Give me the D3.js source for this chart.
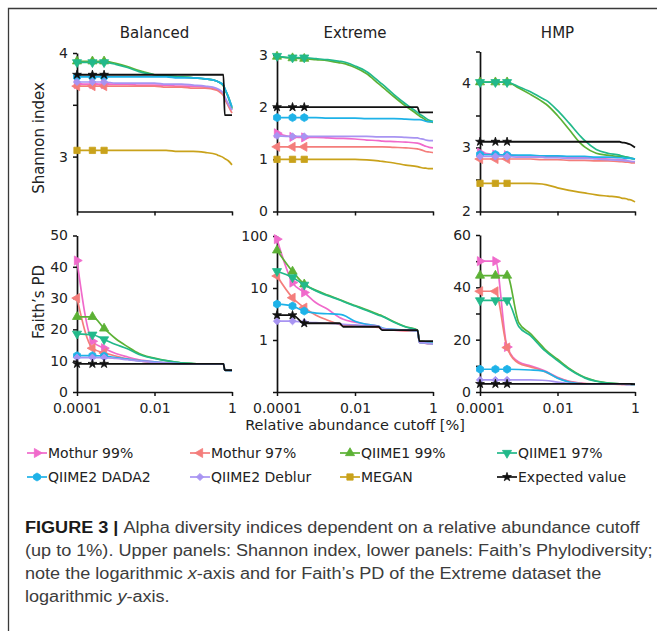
<!DOCTYPE html>
<html><head><meta charset="utf-8">
<script src="https://cdn.jsdelivr.net/npm/d3@7"></script>
<style>body{margin:0;background:#fff}svg{display:block}</style>
</head><body>
<svg id="c" width="657" height="631"></svg>
<script>
// ---------- DATA ----------
const seriesNames = ["Mothur 99%","Mothur 97%","QIIME1 99%","QIIME1 97%","QIIME2 DADA2","QIIME2 Deblur","MEGAN","Expected value"];
const seriesColors = ["#f06acb","#f47d7b","#5cb135","#22b98a","#1eb2e8","#a894f2","#c9a21b","#111111"];
const datasetNames = ["Balanced","Extreme","HMP"];
const cutoffs = [0.0001,0.00025,0.0005,0.001,0.002,0.004,0.005,0.01,0.02,0.04,0.05,0.1,0.2,0.4,0.45,0.6,0.65,0.8,1];
const xTickValues = [0.0001,0.01,1];
const xTickLabels = ["0.0001","0.01","1"];

// Shannon index, Balanced (order = seriesNames)
const shannonBalanced = [
  [3.70,3.70,3.70,3.70,3.70,3.69,3.69,3.69,3.69,3.68,3.68,3.68,3.67,3.65,3.64,3.60,3.57,3.50,3.45],
  [3.68,3.68,3.68,3.68,3.68,3.68,3.68,3.68,3.67,3.67,3.67,3.66,3.66,3.64,3.63,3.59,3.56,3.49,3.42],
  [3.92,3.92,3.92,3.90,3.87,3.83,3.82,3.79,3.78,3.77,3.77,3.76,3.75,3.73,3.72,3.68,3.65,3.58,3.47],
  [3.91,3.91,3.91,3.89,3.86,3.82,3.81,3.79,3.78,3.77,3.77,3.76,3.75,3.73,3.72,3.69,3.66,3.57,3.46],
  [3.77,3.77,3.77,3.77,3.77,3.77,3.77,3.77,3.77,3.76,3.76,3.76,3.75,3.73,3.72,3.69,3.66,3.58,3.48],
  [3.72,3.72,3.72,3.71,3.71,3.71,3.71,3.71,3.70,3.70,3.70,3.69,3.68,3.66,3.65,3.61,3.58,3.51,3.45],
  [3.06,3.06,3.06,3.06,3.06,3.06,3.06,3.06,3.06,3.05,3.05,3.05,3.04,3.02,3.01,2.99,2.98,2.96,2.92],
  [3.79,3.79,3.79,3.79,3.79,3.79,3.79,3.79,3.79,3.79,3.79,3.79,3.79,3.79,3.79,3.79,3.40,3.40,3.40]
];
const shannonExtreme = [
  [1.50,1.43,1.42,1.42,1.41,1.40,1.40,1.39,1.37,1.36,1.35,1.34,1.33,1.31,1.30,1.26,1.25,1.23,1.22],
  [1.24,1.24,1.24,1.24,1.24,1.24,1.24,1.24,1.24,1.24,1.24,1.23,1.22,1.20,1.19,1.16,1.15,1.14,1.13],
  [2.97,2.94,2.93,2.91,2.89,2.85,2.84,2.76,2.64,2.45,2.39,2.20,2.02,1.86,1.83,1.77,1.75,1.72,1.71],
  [2.98,2.95,2.95,2.93,2.91,2.88,2.87,2.79,2.68,2.50,2.44,2.24,2.06,1.90,1.87,1.81,1.79,1.75,1.73],
  [1.80,1.80,1.80,1.80,1.79,1.79,1.79,1.79,1.78,1.78,1.78,1.78,1.77,1.76,1.76,1.74,1.73,1.72,1.72],
  [1.45,1.44,1.44,1.44,1.44,1.44,1.44,1.44,1.44,1.43,1.43,1.43,1.42,1.41,1.40,1.38,1.37,1.36,1.36],
  [1.00,1.00,1.00,1.00,1.00,1.00,1.00,1.00,0.99,0.97,0.96,0.93,0.89,0.86,0.85,0.83,0.83,0.82,0.82],
  [2.00,2.00,2.00,2.00,2.00,2.00,2.00,2.00,2.00,2.00,2.00,2.00,2.00,2.00,1.90,1.90,1.90,1.90,1.90]
];
const shannonHMP = [
  [2.92,2.89,2.88,2.87,2.87,2.86,2.86,2.86,2.85,2.84,2.84,2.83,2.82,2.81,2.81,2.80,2.79,2.78,2.77],
  [2.82,2.82,2.82,2.82,2.82,2.81,2.81,2.81,2.80,2.80,2.80,2.79,2.79,2.78,2.78,2.77,2.77,2.76,2.76],
  [4.02,4.02,4.02,3.93,3.83,3.72,3.68,3.50,3.28,3.06,3.01,2.91,2.88,2.86,2.86,2.85,2.84,2.83,2.82],
  [4.02,4.02,4.02,3.95,3.87,3.77,3.74,3.58,3.38,3.17,3.11,2.97,2.91,2.88,2.87,2.85,2.85,2.83,2.82],
  [2.89,2.89,2.88,2.88,2.88,2.87,2.87,2.87,2.86,2.86,2.86,2.85,2.85,2.84,2.84,2.83,2.83,2.83,2.82],
  [2.86,2.86,2.86,2.85,2.85,2.85,2.84,2.84,2.83,2.83,2.83,2.82,2.81,2.80,2.80,2.79,2.79,2.78,2.78],
  [2.44,2.44,2.44,2.44,2.44,2.43,2.42,2.37,2.33,2.30,2.29,2.26,2.24,2.22,2.21,2.20,2.19,2.18,2.15],
  [3.09,3.09,3.09,3.09,3.09,3.09,3.09,3.09,3.09,3.09,3.09,3.09,3.09,3.09,3.08,3.07,3.06,3.04,3.00]
];
// Faith's PD (MEGAN has no values)
const faithBalanced = [
  [42,16.2,14.0,12.3,11.2,10.3,10.1,9.6,9.3,9.1,9.05,9.0,9.0,9.0,9.0,9.0,7.0,6.9,6.8],
  [30,14.0,12.5,11.5,10.6,10.0,9.8,9.4,9.2,9.05,9.0,9.0,9.0,9.0,9.0,9.0,7.0,6.9,6.8],
  [24,24,20.3,17.0,14.5,12.3,11.8,10.8,10.0,9.5,9.3,9.1,9.0,9.0,9.0,9.0,7.0,6.9,6.8],
  [18.6,18.3,16.8,15.2,13.8,12.0,11.6,10.7,10.0,9.5,9.3,9.1,9.0,9.0,9.0,9.0,7.0,6.9,6.8],
  [11.6,11.6,11.5,11.0,10.5,10.0,9.9,9.6,9.3,9.1,9.0,9.0,9.0,9.0,9.0,9.0,7.0,6.9,6.8],
  [11.0,11.0,11.0,10.7,10.3,9.9,9.8,9.5,9.3,9.1,9.0,9.0,9.0,9.0,9.0,9.0,7.0,6.9,6.8],
  null,
  [9.0,9.0,9.0,9.0,9.0,9.0,9.0,9.0,9.0,9.0,9.0,9.0,9.0,9.0,9.0,9.0,7.0,7.0,7.0]
];
const faithExtreme = [
  [87,12.7,8.2,5.2,3.9,2.7,2.5,2.2,2.0,1.8,1.6,1.55,1.52,1.5,0.9,0.88,0.87,0.86,0.85],
  [17,6.5,4.2,3.0,2.4,2.0,1.9,1.85,1.8,1.75,1.6,1.55,1.5,1.48,0.9,0.88,0.86,0.85,0.85],
  [53,20.8,11.8,9.0,7.3,6.0,5.6,4.6,3.8,3.1,2.9,2.25,1.8,1.55,0.95,0.93,0.92,0.9,0.9],
  [21,16,11.5,8.8,7.1,5.9,5.5,4.5,3.7,3.0,2.85,2.2,1.78,1.53,0.93,0.92,0.9,0.89,0.88],
  [4.9,4.5,3.6,3.3,3.2,3.1,3.0,2.3,2.0,1.85,1.7,1.6,1.55,1.5,0.9,0.88,0.87,0.86,0.85],
  [2.3,2.3,2.2,2.15,2.1,2.05,2.0,1.95,1.9,1.85,1.65,1.58,1.55,1.52,0.9,0.88,0.87,0.86,0.85],
  null,
  [3.0,3.0,2.1,2.1,2.1,2.1,1.8,1.8,1.8,1.8,1.55,1.55,1.55,1.55,0.95,0.95,0.95,0.95,0.95]
];
const faithHMP = [
  [50,50,17.2,11.5,10.0,8.5,7.9,5.6,4.1,3.4,3.25,3.05,3.0,3.0,2.95,2.95,2.9,2.9,2.9],
  [38.5,38.5,17.0,11.0,9.6,8.2,7.6,5.4,4.0,3.3,3.2,3.0,3.0,2.95,2.95,2.95,2.9,2.9,2.9],
  [44.5,44.5,44.5,26.5,22.3,17.5,16.0,12.5,9.0,6.3,5.6,4.2,3.5,3.1,3.05,3.0,3.0,2.95,2.9],
  [35,35,35,25,21.5,16.8,15.5,12.0,8.7,6.1,5.4,4.1,3.4,3.1,3.05,3.0,3.0,2.95,2.9],
  [8.7,8.7,8.7,8.6,8.4,8.1,7.7,5.3,3.8,3.2,3.1,3.0,3.0,3.0,3.0,2.95,2.95,2.9,2.9],
  [4.6,4.6,4.6,4.6,4.6,4.5,4.4,3.8,3.3,3.1,3.05,3.0,3.0,3.0,3.0,2.95,2.95,2.9,2.9],
  null,
  [3.1,3.1,3.1,3.1,3.1,3.1,3.1,3.1,3.1,3.1,3.1,3.1,3.1,3.1,3.1,3.1,3.1,3.05,3.0]
];

// y tick values and labels
const shBalTicks = [3,4], shBalLabels = ["3","4"], shBalMinor = [3.5];
const shExtTicks = [0,1,2,3], shExtLabels = ["0","1","2","3"], shExtMinor = [];
const shHmpTicks = [2,3,4], shHmpLabels = ["2","3","4"], shHmpMinor = [2.5,3.5,4.5];
const fpBalTicks = [0,10,20,30,40,50], fpBalLabels = ["0","10","20","30","40","50"], fpBalMinor = [];
const fpExtTicks = [0.1,1,10,100], fpExtLabels = ["","1","10","100"], fpExtMinor = [];
const fpHmpTicks = [0,20,40,60], fpHmpLabels = ["0","20","40","60"], fpHmpMinor = [10,30,50];

const captionLines = [
  [["b","FIGURE 3 | "],["n","Alpha diversity indices dependent on a relative abundance cutoff"]],
  [["n","(up to 1%). Upper panels: Shannon index, lower panels: Faith\u2019s Phylodiversity;"]],
  [["n","note the logarithmic "],["i","x"],["n","-axis and for Faith\u2019s PD of the Extreme dataset the"]],
  [["n","logarithmic "],["i","y"],["n","-axis."]]
];

// ---------- DRAW ----------
const FONT = "'DejaVu Sans', sans-serif";
const svg = d3.select("#c");
svg.append("rect").attr("width",657).attr("height",631).attr("fill","#fff");
svg.append("path").attr("d","M8.5,631 V8.5 H657").attr("fill","none").attr("stroke","#3a3a3a").attr("stroke-width",1.3);

const colX = [[77,232],[277,433],[480,635]];
const panels = [
  {row:0,col:0,data:shannonBalanced,log:false,domain:[2.47,4],range:[211.5,53],t:shBalTicks,l:shBalLabels,m:shBalMinor},
  {row:0,col:1,data:shannonExtreme,log:false,domain:[0,3],range:[211.5,55],t:shExtTicks,l:shExtLabels,m:shExtMinor},
  {row:0,col:2,data:shannonHMP,log:false,domain:[2,4.5],range:[211.5,51.5],t:shHmpTicks,l:shHmpLabels,m:shHmpMinor},
  {row:1,col:0,data:faithBalanced,log:false,domain:[0,50],range:[392,235.5],t:fpBalTicks,l:fpBalLabels,m:fpBalMinor},
  {row:1,col:1,data:faithExtreme,log:true,domain:[0.1,100],range:[392,236],t:fpExtTicks,l:fpExtLabels,m:fpExtMinor},
  {row:1,col:2,data:faithHMP,log:false,domain:[0,60],range:[392,235],t:fpHmpTicks,l:fpHmpLabels,m:fpHmpMinor}
];

const hexagon = {draw(ctx,size){const r=Math.sqrt(size/(1.5*Math.sqrt(3)));for(let k=0;k<6;k++){const a=Math.PI/3*k+Math.PI/6;const px=r*Math.cos(a),py=r*Math.sin(a);k?ctx.lineTo(px,py):ctx.moveTo(px,py);}ctx.closePath();}};
const symDefs = [
  {type:d3.symbolTriangle,rot:90,size:36},
  {type:d3.symbolTriangle,rot:-90,size:36},
  {type:d3.symbolTriangle,rot:0,size:36},
  {type:d3.symbolTriangle,rot:180,size:36},
  {type:hexagon,rot:0,size:42},
  {type:d3.symbolSquare,rot:45,size:26},
  {type:d3.symbolSquare,rot:0,size:40},
  {type:d3.symbolStar,rot:0,size:24}
];
function marker(g,si,cx,cy){
  const s=symDefs[si];
  g.append("path").attr("d",d3.symbol().type(s.type).size(s.size)())
   .attr("transform",`translate(${cx},${cy}) rotate(${s.rot})`)
   .attr("fill",seriesColors[si]).attr("stroke",seriesColors[si]).attr("stroke-width",0.8);
}

function styleAxis(a){
  a.selectAll("path.domain").attr("stroke","#111").attr("stroke-width",1.7);
  a.selectAll(".tick line").attr("stroke","#111").attr("stroke-width",1.5);
  a.selectAll(".tick text").attr("font-family",FONT).attr("font-size",14).attr("fill","#222");
}

panels.forEach(p=>{
  const [x0,x1]=colX[p.col];
  const x=d3.scaleLog().domain([1e-4,1]).range([x0,x1]);
  const y=(p.log?d3.scaleLog():d3.scaleLinear()).domain(p.domain).range(p.range);
  const g=svg.append("g");
  const yb=p.range[0];
  const ax=g.append("g").attr("transform",`translate(0,${yb})`)
    .call(d3.axisBottom(x).tickValues(xTickValues).tickSizeInner(4).tickSizeOuter(0).tickPadding(7)
      .tickFormat((d,i)=>p.row===1?xTickLabels[i]:""));
  styleAxis(ax);
  const ay=g.append("g").attr("transform",`translate(${x0},0)`)
    .call(d3.axisLeft(y).tickValues(p.t).tickSizeInner(4).tickSizeOuter(0).tickPadding(5).tickFormat((d,i)=>p.l[i]));
  styleAxis(ay);
  if(p.m.length){
    const am=g.append("g").attr("transform",`translate(${x0},0)`)
      .call(d3.axisLeft(y).tickValues(p.m).tickSizeInner(4).tickSizeOuter(0).tickFormat(""));
    styleAxis(am); am.select("path.domain").remove();
  }
  const line=d3.line().x(d=>x(d[0])).y(d=>y(d[1])).curve(d3.curveMonotoneX);
  p.data.forEach((vals,si)=>{
    if(!vals) return;
    const pts=cutoffs.map((c,i)=>[c,vals[i]]);
    g.append("path").attr("d",line(pts)).attr("fill","none")
      .attr("stroke",seriesColors[si]).attr("stroke-width",si===7?1.8:1.7).attr("stroke-linejoin","round");
    for(let i=0;i<3;i++) marker(g,si,x(pts[i][0]),y(pts[i][1]));
  });
  if(p.row===0){
    svg.append("text").attr("x",(x0+x1)/2).attr("y",38).attr("text-anchor","middle")
      .attr("font-family",FONT).attr("font-size",15).attr("fill","#222").text(datasetNames[p.col]);
  }
});

svg.append("text").attr("transform","translate(44,138) rotate(-90)").attr("text-anchor","middle")
  .attr("font-family",FONT).attr("font-size",15).attr("fill","#222").text("Shannon index");
svg.append("text").attr("transform","translate(44,302) rotate(-90)").attr("text-anchor","middle")
  .attr("font-family",FONT).attr("font-size",15).attr("fill","#222").text("Faith\u2019s PD");
svg.append("text").attr("x",355).attr("y",430).attr("text-anchor","middle")
  .attr("font-family",FONT).attr("font-size",14.5).attr("fill","#222").text("Relative abundance cutoff [%]");

// legend
const legX=[27,190,340,497], legY=[453,477];
seriesNames.forEach((name,si)=>{
  const lx=legX[si%4], ly=legY[Math.floor(si/4)];
  const lg=svg.append("g");
  lg.append("line").attr("x1",lx).attr("x2",lx+20).attr("y1",ly).attr("y2",ly)
    .attr("stroke",seriesColors[si]).attr("stroke-width",1.7);
  marker(lg,si,lx+10,ly);
  lg.append("text").attr("x",lx+21).attr("y",ly+5).attr("font-family",FONT).attr("font-size",14)
    .attr("fill","#222").text(name);
});

// caption
const cap=svg.append("g");
const capBase=[533,556,579,602];
captionLines.forEach((parts,li)=>{
  const t=cap.append("text").attr("x",0).attr("y",capBase[li])
    .attr("font-family","'Liberation Sans', Arial, sans-serif").attr("font-size",16).attr("fill","#3c3c3c");
  parts.forEach(([k,s])=>{
    const ts=t.append("tspan").text(s);
    if(k==="b") ts.attr("font-weight","bold").attr("fill","#1a1a1a");
    if(k==="i") ts.attr("font-style","italic");
  });
});
const w0=cap.select("text").node().getComputedTextLength();
cap.attr("transform",`translate(25,0) scale(${615/w0},1)`);
</script>
</body></html>
